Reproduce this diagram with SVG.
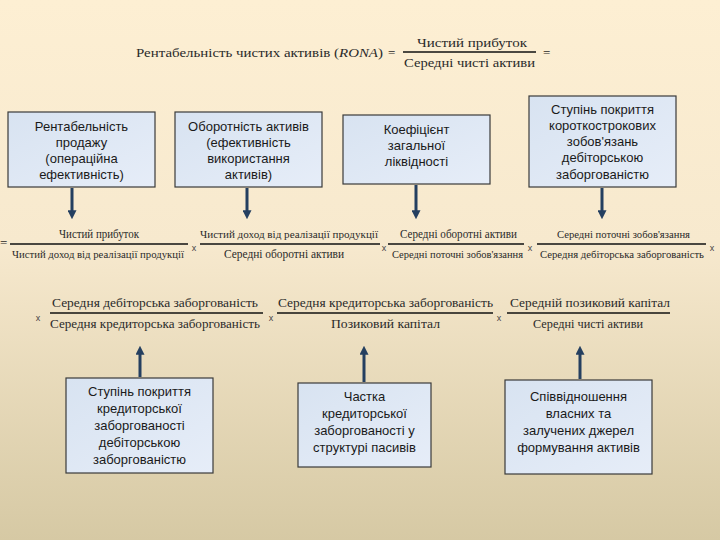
<svg xmlns="http://www.w3.org/2000/svg" width="720" height="540" viewBox="0 0 720 540">
<defs>
<linearGradient id="bg" x1="0" y1="0" x2="0" y2="1">
<stop offset="0" stop-color="#FDEFD3"/>
<stop offset="0.45" stop-color="#F7E9CE"/>
<stop offset="1" stop-color="#D6C9A4"/>
</linearGradient>
<linearGradient id="boxfill" x1="0" y1="0" x2="1" y2="1">
<stop offset="0" stop-color="#D8E3F1"/>
<stop offset="1" stop-color="#E6EDF8"/>
</linearGradient>
<marker id="ah" viewBox="0 0 10 10" refX="2" refY="5" markerWidth="3" markerHeight="3" orient="auto" markerUnits="strokeWidth">
<path d="M0,0 L10,5 L0,10 Z" fill="#243F60"/>
</marker>
<style>
.box{fill:url(#boxfill);stroke:#3a3a3a;stroke-width:1.2}
.bt{font-family:"Liberation Sans",Arial,sans-serif;font-size:13px;fill:#1a1a1a;text-anchor:middle}
.f{font-family:"Liberation Serif","Times New Roman",serif;font-size:13px;fill:#2a2a2a}
.s{font-size:10.5px}
.x{font-family:"Liberation Sans",Arial,sans-serif;font-size:9px;fill:#444;text-anchor:middle}
.fl{stroke:#111;stroke-width:1.5}
.arr{stroke:#243F60;stroke-width:3;fill:none}
</style>
</defs>
<rect width="720" height="540" fill="url(#bg)"/>

<g id="formula-top">
<text class="f" x="136" y="57" font-size="14" textLength="247" lengthAdjust="spacingAndGlyphs">Рентабельність чистих активів (<tspan font-style="italic">RONA</tspan>)</text>
<text class="f" x="388" y="57" font-size="14">=</text>
<line class="fl" x1="403" y1="52" x2="536" y2="52"/>
<text class="f" x="417" y="47" font-size="14" textLength="110" lengthAdjust="spacingAndGlyphs">Чистий прибуток</text>
<text class="f" x="404" y="67" font-size="14" textLength="131" lengthAdjust="spacingAndGlyphs">Середні чисті активи</text>
<text class="f" x="543" y="57" font-size="14">=</text>
</g>

<g id="formula-row2">
<text class="f" x="0" y="247">=</text>
<line class="fl" x1="10" y1="244" x2="188" y2="244"/>
<text class="f" x="59" y="238" font-size="12" textLength="80" lengthAdjust="spacingAndGlyphs">Чистий прибуток</text>
<text class="f s" x="12" y="258" textLength="172" lengthAdjust="spacingAndGlyphs">Чистий доход від реалізації продукції</text>
<text class="x" x="194" y="251">x</text>
<line class="fl" x1="200" y1="244" x2="380" y2="244"/>
<text class="f s" x="200" y="238" textLength="178" lengthAdjust="spacingAndGlyphs">Чистий доход від реалізації продукції</text>
<text class="f" x="224" y="258" font-size="12" textLength="120" lengthAdjust="spacingAndGlyphs">Середні оборотні активи</text>
<text class="x" x="384" y="251">x</text>
<line class="fl" x1="388" y1="244" x2="524" y2="244"/>
<text class="f" x="400" y="238" font-size="11.5" textLength="117" lengthAdjust="spacingAndGlyphs">Середні  оборотні активи</text>
<text class="f s" x="392" y="258" textLength="131" lengthAdjust="spacingAndGlyphs">Середні поточні зобов'язання</text>
<text class="x" x="530" y="251">x</text>
<line class="fl" x1="537" y1="244" x2="706" y2="244"/>
<text class="f s" x="557" y="238" textLength="133" lengthAdjust="spacingAndGlyphs">Середні поточні зобов'язання</text>
<text class="f s" x="540" y="258" textLength="164" lengthAdjust="spacingAndGlyphs">Середня дебіторська заборгованість</text>
<text class="x" x="712" y="251">x</text>
</g>

<g id="formula-row3">
<text class="x" x="38" y="321">x</text>
<line class="fl" x1="50" y1="313" x2="263" y2="313"/>
<text class="f" x="52" y="307" textLength="206" lengthAdjust="spacingAndGlyphs">Середня дебіторська заборгованість</text>
<text class="f" x="50" y="328" textLength="210" lengthAdjust="spacingAndGlyphs">Середня кредиторська заборгованість</text>
<text class="x" x="271" y="321">x</text>
<line class="fl" x1="277" y1="313" x2="493" y2="313"/>
<text class="f" x="278" y="307" textLength="215" lengthAdjust="spacingAndGlyphs">Середня кредиторська заборгованість</text>
<text class="f" x="331" y="328" textLength="109" lengthAdjust="spacingAndGlyphs">Позиковий капітал</text>
<text class="x" x="499" y="321">x</text>
<line class="fl" x1="507" y1="313" x2="670" y2="313"/>
<text class="f" x="510" y="307" textLength="160" lengthAdjust="spacingAndGlyphs">Середній позиковий капітал</text>
<text class="f" x="533" y="328" textLength="110" lengthAdjust="spacingAndGlyphs">Середні чисті активи</text>
</g>

<g id="node-1">
<rect class="box" x="8" y="112" width="147" height="75"/>
<text class="bt" x="81.5" y="131">Рентабельність</text>
<text class="bt" x="81.5" y="147">продажу</text>
<text class="bt" x="81.5" y="163">(операційна</text>
<text class="bt" x="81.5" y="179">ефективність)</text>
</g>
<g id="node-2">
<rect class="box" x="175" y="112" width="147" height="75"/>
<text class="bt" x="248.5" y="131">Оборотність активів</text>
<text class="bt" x="248.5" y="147">(ефективність</text>
<text class="bt" x="248.5" y="163">використання</text>
<text class="bt" x="248.5" y="179">активів)</text>
</g>
<g id="node-3">
<rect class="box" x="343" y="115" width="147" height="69"/>
<text class="bt" x="416.5" y="134">Коефіцієнт</text>
<text class="bt" x="416.5" y="150">загальної</text>
<text class="bt" x="416.5" y="166">ліквідності</text>
</g>
<g id="node-4">
<rect class="box" x="529" y="96" width="147" height="91"/>
<text class="bt" x="602.5" y="114">Ступінь покриття</text>
<text class="bt" x="602.5" y="130">короткострокових</text>
<text class="bt" x="602.5" y="146">зобов'язань</text>
<text class="bt" x="602.5" y="162">дебіторською</text>
<text class="bt" x="602.5" y="179">заборгованістю</text>
</g>
<g id="node-5">
<rect class="box" x="66" y="378" width="147" height="95"/>
<text class="bt" x="139.5" y="396">Ступінь покриття</text>
<text class="bt" x="139.5" y="413">кредиторської</text>
<text class="bt" x="139.5" y="430">заборгованості</text>
<text class="bt" x="139.5" y="447">дебіторською</text>
<text class="bt" x="139.5" y="464">заборгованістю</text>
</g>
<g id="node-6">
<rect class="box" x="298" y="383" width="133" height="84"/>
<text class="bt" x="364.5" y="401">Частка</text>
<text class="bt" x="364.5" y="418">кредиторської</text>
<text class="bt" x="364.5" y="435">заборгованості у</text>
<text class="bt" x="364.5" y="452">структурі пасивів</text>
</g>
<g id="node-7">
<rect class="box" x="505" y="380" width="147" height="94"/>
<text class="bt" x="578.5" y="401">Співвідношення</text>
<text class="bt" x="578.5" y="418">власних та</text>
<text class="bt" x="578.5" y="435">залучених джерел</text>
<text class="bt" x="578.5" y="452">формування активів</text>
</g>

<g id="connectors">
<line class="arr" x1="72" y1="188" x2="72" y2="212" marker-end="url(#ah)"/>
<line class="arr" x1="247" y1="188" x2="247" y2="212" marker-end="url(#ah)"/>
<line class="arr" x1="416" y1="185" x2="416" y2="212" marker-end="url(#ah)"/>
<line class="arr" x1="602" y1="188" x2="602" y2="212" marker-end="url(#ah)"/>
<line class="arr" x1="140" y1="377" x2="140" y2="353" marker-end="url(#ah)"/>
<line class="arr" x1="364" y1="382" x2="364" y2="353" marker-end="url(#ah)"/>
<line class="arr" x1="580" y1="379" x2="580" y2="353" marker-end="url(#ah)"/>
</g>
</svg>
